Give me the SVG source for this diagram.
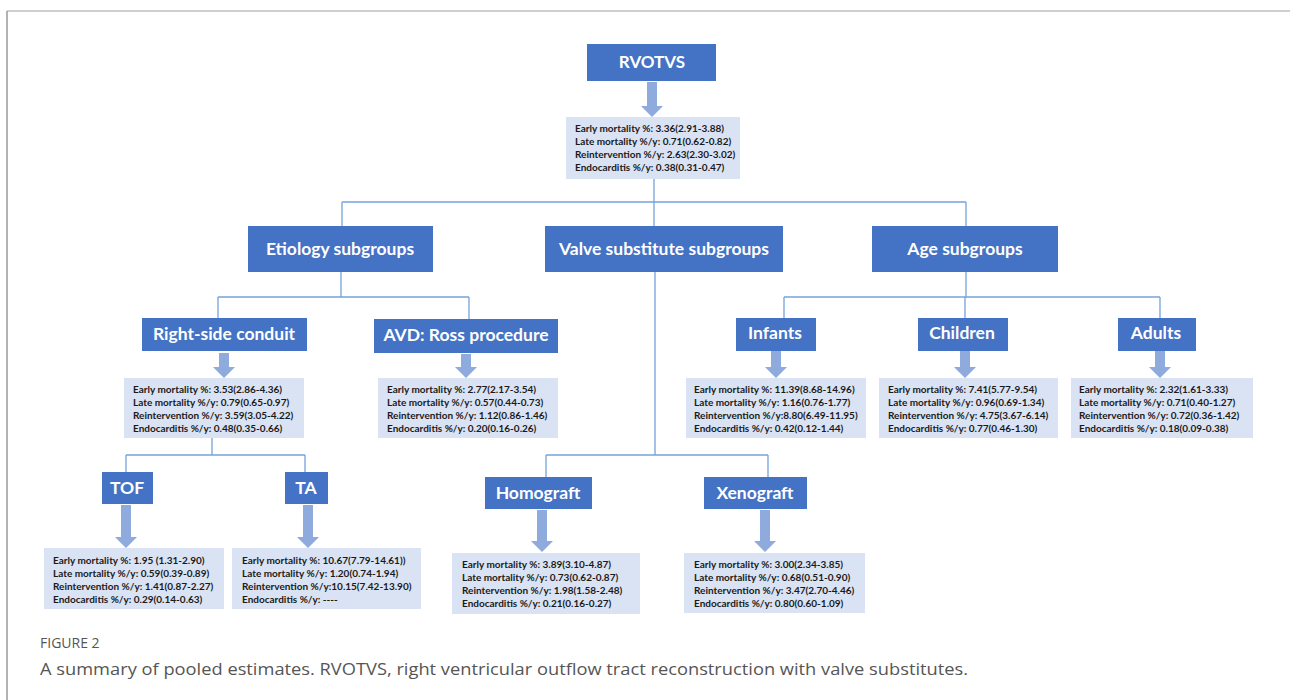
<svg xmlns="http://www.w3.org/2000/svg" width="1290" height="700" viewBox="0 0 1290 700">
<style>
.hd{fill:#4472C4}
.hdt{fill:#fff;font-family:Lato,"Open Sans",sans-serif;font-weight:bold;text-anchor:middle;font-size:17.5px}
.st{fill:#DAE3F3}
.stt{fill:#1a1a1a;font-family:Lato,"Open Sans",sans-serif;font-weight:bold;font-size:10px}
.ln{fill:none;stroke:#75A3DA;stroke-width:1.3}
.ar{fill:#8FAADC}
.cap{fill:#555;font-family:"Open Sans",sans-serif}
</style>
<rect width="1290" height="700" fill="#fff"/>
<line x1="7" y1="11" x2="1290" y2="11" stroke="#cfcfcf" stroke-width="2"/>
<line x1="7" y1="11" x2="7" y2="700" stroke="#9a9a9a" stroke-width="1.5"/>

<g id="connectors">
<path class="ln" d="M654 179V226M342 202H966M342 202V226M966 202V226"/>
<path class="ln" d="M341 272V297M218 297H469M218 297V318M469 297V319"/>
<path class="ln" d="M212 438V455M126 455H305M126 455V472M305 455V472"/>
<path class="ln" d="M655 272V455M546 455H768M546 455V477M768 455V477"/>
<path class="ln" d="M966 272V297M784 297H1160M784 297V318M965 297V318M1160 297V318"/>
<path class="ar" d="M647 82H657V106H663L652 117L641 106H647Z"/>
<path class="ar" d="M219 353H229V367H235L224 378L213 367H219Z"/>
<path class="ar" d="M461 354H471V367H477L466 378L455 367H461Z"/>
<path class="ar" d="M771 351H781V367H787L776 378L765 367H771Z"/>
<path class="ar" d="M960 351H970V367H976L965 378L954 367H960Z"/>
<path class="ar" d="M1155 351H1165V367H1171L1160 378L1149 367H1155Z"/>
<path class="ar" d="M121 505H131V537H137L126 548L115 537H121Z"/>
<path class="ar" d="M303 505H313V537H319L308 548L297 537H303Z"/>
<path class="ar" d="M537 510H547V541H553L542 552L531 541H537Z"/>
<path class="ar" d="M760 510H770V541H776L765 552L754 541H760Z"/>
</g>

<g id="rvotvs">
<rect class="hd" x="587" y="44" width="129" height="37"/>
<text class="hdt" x="652" y="68" style="font-size:17px">RVOTVS</text>
</g>
<g id="rvotvs-stats">
<rect class="st" x="566" y="117" width="174" height="62"/>
<text class="stt" x="575" y="132">Early mortality %: 3.36(2.91-3.88)</text>
<text class="stt" x="575" y="145">Late mortality %/y: 0.71(0.62-0.82)</text>
<text class="stt" x="575" y="158">Reintervention %/y: 2.63(2.30-3.02)</text>
<text class="stt" x="575" y="171">Endocarditis %/y: 0.38(0.31-0.47)</text>
</g>

<g id="etiology">
<rect class="hd" x="248" y="226" width="185" height="46"/>
<text class="hdt" x="340" y="255">Etiology subgroups</text>
</g>
<g id="valve">
<rect class="hd" x="545" y="226" width="238" height="46"/>
<text class="hdt" x="664" y="255">Valve substitute subgroups</text>
</g>
<g id="age">
<rect class="hd" x="872" y="226" width="186" height="46"/>
<text class="hdt" x="965" y="255">Age subgroups</text>
</g>

<g id="rsc">
<rect class="hd" x="142" y="318" width="165" height="33"/>
<text class="hdt" x="224" y="340">Right-side conduit</text>
</g>
<g id="rsc-stats">
<rect class="st" x="124" y="378" width="180" height="60"/>
<text class="stt" x="133" y="393">Early mortality %: 3.53(2.86-4.36)</text>
<text class="stt" x="133" y="406">Late mortality %/y: 0.79(0.65-0.97)</text>
<text class="stt" x="133" y="419">Reintervention %/y: 3.59(3.05-4.22)</text>
<text class="stt" x="133" y="432">Endocarditis %/y: 0.48(0.35-0.66)</text>
</g>

<g id="avd">
<rect class="hd" x="374" y="319" width="184" height="34"/>
<text class="hdt" x="466" y="341">AVD: Ross procedure</text>
</g>
<g id="avd-stats">
<rect class="st" x="378" y="378" width="180" height="60"/>
<text class="stt" x="387" y="393">Early mortality %: 2.77(2.17-3.54)</text>
<text class="stt" x="387" y="406">Late mortality %/y: 0.57(0.44-0.73)</text>
<text class="stt" x="387" y="419">Reintervention %/y: 1.12(0.86-1.46)</text>
<text class="stt" x="387" y="432">Endocarditis %/y: 0.20(0.16-0.26)</text>
</g>

<g id="infants">
<rect class="hd" x="736" y="318" width="80" height="33"/>
<text class="hdt" x="775" y="339">Infants</text>
</g>
<g id="infants-stats">
<rect class="st" x="686" y="378" width="180" height="60"/>
<text class="stt" x="694" y="393">Early mortality %: 11.39(8.68-14.96)</text>
<text class="stt" x="694" y="406">Late mortality %/y: 1.16(0.76-1.77)</text>
<text class="stt" x="694" y="419">Reintervention %/y:8.80(6.49-11.95)</text>
<text class="stt" x="694" y="432">Endocarditis %/y: 0.42(0.12-1.44)</text>
</g>

<g id="children">
<rect class="hd" x="918" y="318" width="90" height="33"/>
<text class="hdt" x="962" y="339">Children</text>
</g>
<g id="children-stats">
<rect class="st" x="879" y="378" width="179" height="60"/>
<text class="stt" x="888" y="393">Early mortality %: 7.41(5.77-9.54)</text>
<text class="stt" x="888" y="406">Late mortality %/y: 0.96(0.69-1.34)</text>
<text class="stt" x="888" y="419">Reintervention %/y: 4.75(3.67-6.14)</text>
<text class="stt" x="888" y="432">Endocarditis %/y: 0.77(0.46-1.30)</text>
</g>

<g id="adults">
<rect class="hd" x="1118" y="318" width="78" height="33"/>
<text class="hdt" x="1156" y="339">Adults</text>
</g>
<g id="adults-stats">
<rect class="st" x="1071" y="378" width="182" height="60"/>
<text class="stt" x="1079" y="393">Early mortality %: 2.32(1.61-3.33)</text>
<text class="stt" x="1079" y="406">Late mortality %/y: 0.71(0.40-1.27)</text>
<text class="stt" x="1079" y="419">Reintervention %/y: 0.72(0.36-1.42)</text>
<text class="stt" x="1079" y="432">Endocarditis %/y: 0.18(0.09-0.38)</text>
</g>

<g id="tof">
<rect class="hd" x="102" y="472" width="51" height="32"/>
<text class="hdt" x="127" y="494">TOF</text>
</g>
<g id="tof-stats">
<rect class="st" x="44" y="548" width="180" height="61"/>
<text class="stt" x="53" y="564">Early mortality %: 1.95 (1.31-2.90)</text>
<text class="stt" x="53" y="577">Late mortality %/y: 0.59(0.39-0.89)</text>
<text class="stt" x="53" y="590">Reintervention %/y: 1.41(0.87-2.27)</text>
<text class="stt" x="53" y="603">Endocarditis %/y: 0.29(0.14-0.63)</text>
</g>

<g id="ta">
<rect class="hd" x="285" y="472" width="43" height="32"/>
<text class="hdt" x="306" y="494">TA</text>
</g>
<g id="ta-stats">
<rect class="st" x="232" y="548" width="189" height="61"/>
<text class="stt" x="242" y="564">Early mortality %: 10.67(7.79-14.61))</text>
<text class="stt" x="242" y="577">Late mortality %/y: 1.20(0.74-1.94)</text>
<text class="stt" x="242" y="590">Reintervention %/y:10.15(7.42-13.90)</text>
<text class="stt" x="242" y="603">Endocarditis %/y: ----</text>
</g>

<g id="homograft">
<rect class="hd" x="485" y="477" width="107" height="32"/>
<text class="hdt" x="538" y="499">Homograft</text>
</g>
<g id="homograft-stats">
<rect class="st" x="452" y="553" width="188" height="61"/>
<text class="stt" x="462" y="568">Early mortality %: 3.89(3.10-4.87)</text>
<text class="stt" x="462" y="581">Late mortality %/y: 0.73(0.62-0.87)</text>
<text class="stt" x="462" y="594">Reintervention %/y: 1.98(1.58-2.48)</text>
<text class="stt" x="462" y="607">Endocarditis %/y: 0.21(0.16-0.27)</text>
</g>

<g id="xenograft">
<rect class="hd" x="704" y="477" width="103" height="32"/>
<text class="hdt" x="755" y="499">Xenograft</text>
</g>
<g id="xenograft-stats">
<rect class="st" x="684" y="553" width="181" height="60"/>
<text class="stt" x="694" y="568">Early mortality %: 3.00(2.34-3.85)</text>
<text class="stt" x="694" y="581">Late mortality %/y: 0.68(0.51-0.90)</text>
<text class="stt" x="694" y="594">Reintervention %/y: 3.47(2.70-4.46)</text>
<text class="stt" x="694" y="607">Endocarditis %/y: 0.80(0.60-1.09)</text>
</g>

<text class="cap" x="40" y="648" font-size="14">FIGURE 2</text>
<text class="cap" x="40" y="675" font-size="17" textLength="928" lengthAdjust="spacingAndGlyphs">A summary of pooled estimates. RVOTVS, right ventricular outflow tract reconstruction with valve substitutes.</text>
</svg>
